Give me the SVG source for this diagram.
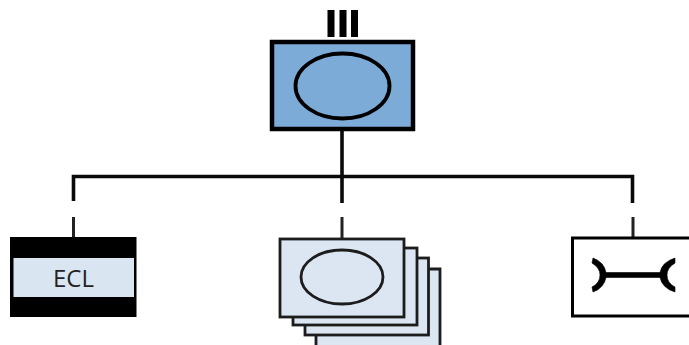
<svg xmlns="http://www.w3.org/2000/svg" width="689" height="345" viewBox="0 0 689 345">
<style>
.c{stroke:#0a0a0a;fill:none;stroke-width:3.6}
.d{stroke:#222;fill:none;stroke-width:3}
.lt{fill:#dbe6f2;stroke:#1c1c1c;stroke-width:2.800}
</style>
<rect width="689" height="345" fill="#fff"/>
<g id="connectors">
<path class="c" d="M73.500 201V176.500H632.500V203"/>
<path class="c" d="M342 131V203"/>
<path class="d" d="M73.500 217V237M342 217V238M633 217V237"/>
</g>
<g id="top-node">
<rect x="327.500" y="10" width="7" height="27" fill="#000"/>
<rect x="339.500" y="10" width="7" height="27" fill="#000"/>
<rect x="351" y="10" width="7" height="27" fill="#000"/>
<rect x="272" y="42" width="141" height="87" fill="#7dabd8" stroke="#000" stroke-width="4.500"/>
<ellipse cx="342.500" cy="86" rx="47" ry="32.500" fill="none" stroke="#000" stroke-width="3.800"/>
</g>
<g id="ecl-node">
<rect x="10" y="237" width="126.500" height="80" fill="#000"/>
<rect x="13.500" y="258" width="120.500" height="39" fill="#d9e6f2"/>
<text x="73.500" y="287" text-anchor="middle" font-family="'Open Sans','Noto Sans',sans-serif" font-size="24" fill="#222">ECL</text>
</g>
<g id="stack-node">
<path class="lt" d="M316 345V269H440V345"/>
<rect class="lt" x="305" y="258" width="123.500" height="77"/>
<rect class="lt" x="293" y="248" width="124" height="77"/>
<rect class="lt" x="280" y="239" width="124" height="78"/>
<ellipse cx="342" cy="277" rx="41" ry="27" fill="none" stroke="#1c1c1c" stroke-width="2.800"/>
</g>
<g id="wrench-node">
<rect x="572.500" y="238" width="120" height="78" fill="#fff" stroke="#000" stroke-width="3"/>
<path d="M593 258Q604 262 606 272.500H660Q662 262 675 258L675 263Q667 268 667 275Q667 283 675 287L675 292Q662 288 660 277.500H606Q604 288 593 292L592 287Q600 283 600 275Q600 268 592 263Z" fill="#000" stroke="#000" stroke-width="0.600" stroke-linejoin="round"/>
</g>
</svg>
